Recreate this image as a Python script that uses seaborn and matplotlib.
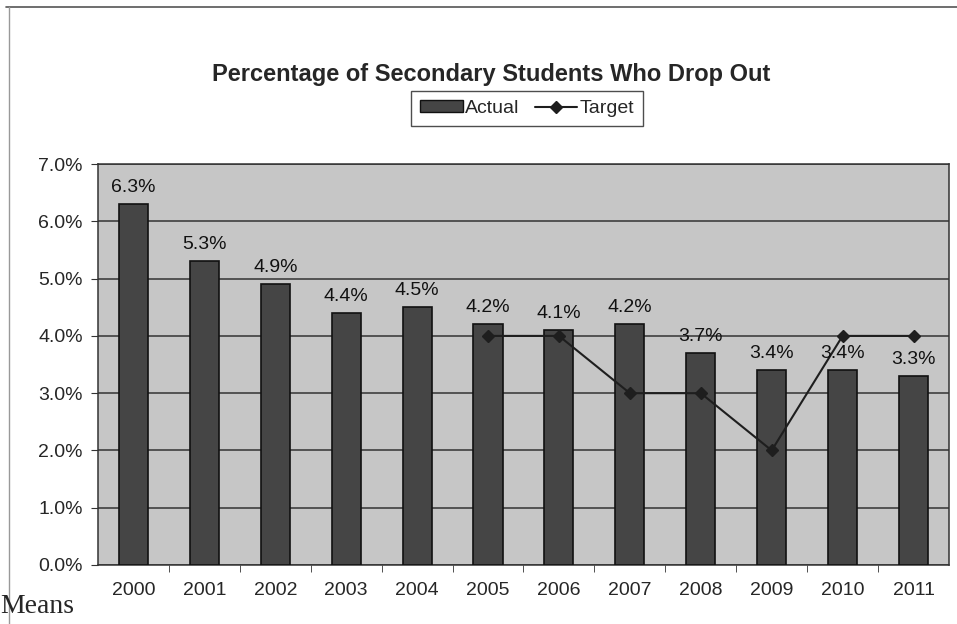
import numpy as np
import pandas as pd
import seaborn as sns
import matplotlib.pyplot as plt
from matplotlib.lines import Line2D
from matplotlib.patches import Patch

years = ['2000', '2001', '2002', '2003', '2004', '2005',
         '2006', '2007', '2008', '2009', '2010', '2011']
actual = [6.3, 5.3, 4.9, 4.4, 4.5, 4.2, 4.1, 4.2, 3.7, 3.4, 3.4, 3.3]
target = [np.nan, np.nan, np.nan, np.nan, np.nan, 4.0,
          4.0, 3.0, 3.0, 2.0, 4.0, 4.0]

df = pd.DataFrame({'year': years, 'actual': actual, 'target': target})

sns.set_style('white')
plt.rcParams['font.family'] = ['Liberation Sans', 'DejaVu Sans']

fig = plt.figure(figsize=(9.57, 6.24), dpi=100)
ax = fig.add_axes([0.1024, 0.0946, 0.8892, 0.6424])
ax.set_facecolor('#c6c6c6')

sns.barplot(data=df, x='year', y='actual', color='#454545', width=0.41,
            edgecolor='#111111', linewidth=1.2, saturation=1, ax=ax, zorder=3)

pos = np.arange(len(years))
ax.plot(pos, df['target'], color='#1e1e1e', lw=1.5, marker='D',
        markersize=6, zorder=4)

for x, v in zip(pos, actual):
    ax.text(x, v + 0.14, f'{v:.1f}%', ha='center', va='bottom',
            fontsize=14, color='#111111', zorder=5)

ax.set_ylim(0, 7)
ax.set_xlim(-0.5, len(years) - 0.5)
yt = np.arange(0, 7.01, 1)
ax.set_yticks(yt)
ax.set_yticklabels([f'{t:.1f}%' for t in yt], fontsize=14)
ax.set_xticks(pos)
ax.set_xticklabels(years, fontsize=14)
ax.set_xticks(np.arange(0.5, len(years) - 1, 1), minor=True)
ax.tick_params(axis='x', which='major', length=0, pad=12)
ax.tick_params(axis='x', which='minor', length=5, color='#333333',
               direction='out', bottom=True)
ax.tick_params(axis='y', length=5, color='#333333', pad=6, direction='out',
               left=True)
ax.yaxis.grid(True, color='#333333', lw=1.1)
ax.set_axisbelow(True)
ax.set_xlabel('')
ax.set_ylabel('')
for s in ax.spines.values():
    s.set_color('#333333')
    s.set_linewidth(1.1)

fig.text(0.513, 0.88, 'Percentage of Secondary Students Who Drop Out',
         ha='center', va='center', fontsize=17, fontweight='bold')

handles = [Patch(facecolor='#454545', edgecolor='#111111', label='Actual'),
           Line2D([0], [0], color='#1e1e1e', lw=1.5, marker='D',
                  markersize=6, label='Target')]
leg = fig.legend(handles=handles, loc='center', bbox_to_anchor=(0.5507, 0.826),
                 ncol=2, fontsize=14, frameon=True, fancybox=False,
                 handlelength=2.2, handleheight=0.55, handletextpad=0.1,
                 columnspacing=0.8, borderpad=0.45)
leg.get_frame().set_edgecolor('#222222')
leg.get_frame().set_linewidth(1)

# outer chart border from the scanned page
fig.add_artist(Line2D([0.006, 1.0], [0.988, 0.988], color='#555555', lw=1.2))
fig.add_artist(Line2D([0.009, 0.009], [0.0, 0.988], color='#999999', lw=1))

fig.text(0.0, 0.028, 'Means', ha='left', va='center', fontsize=20,
         family=['Liberation Serif', 'DejaVu Serif'])

plt.savefig('out.png', dpi=100)
